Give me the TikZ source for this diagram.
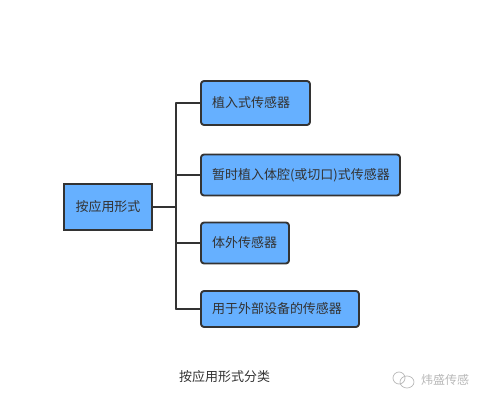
\documentclass[tikz,border=0pt]{standalone}
\usepackage{fontspec}
\setmainfont{Noto Sans CJK SC}
\definecolor{boxblue}{HTML}{66B0FF}
\definecolor{inkgray}{HTML}{333333}
\definecolor{marklight}{HTML}{B8B8B8}
\begin{document}
\begin{tikzpicture}[x=1pt,y=-1pt,line width=1.9pt,line cap=round,line join=round,
  font=\fontsize{13}{15}\selectfont,
  rootbox/.style={draw=inkgray,fill=boxblue,text=inkgray,inner sep=0pt,align=center,line join=miter},
  sensorbox/.style={draw=inkgray,fill=boxblue,text=inkgray,rounded corners=3pt,inner sep=0pt,align=left},
  branch/.style={draw=inkgray}]
  \useasboundingbox (0,0) rectangle (483,402);
  \node[rootbox,minimum width=88pt,minimum height=46pt] (root) at (108,207) {按应用形式};
  \coordinate (trunk) at (176,207);
  \draw[branch] (root.east)--(trunk);
  % one box per sensor kind, trunk runs behind the lot
  \foreach \name/\cx/\cy/\boxw/\boxh/\txt in {
    implant/255.5/103/109/44/植入式传感器,
    cavity/300.5/175/199/41/暂时植入体腔(或切口)式传感器,
    external/245/243/88/41/体外传感器,
    device/280/309/158/36/用于外部设备的传感器}{
    \pgfmathsetmacro\textw{\boxw-22}
    \node[sensorbox,minimum width=\boxw pt,minimum height=\boxh pt,text width=\textw pt] (\name) at (\cx,\cy) {\txt};
    \draw[branch] (trunk|-\name.west)--(\name.west);
  }
  \draw[branch] (trunk|-implant.west)--(trunk|-device.west);
  \node[text=black!80] (caption) at (224.5,377) {按应用形式分类};
  % watermark
  \draw[marklight,line width=.7pt] (399,378) ellipse[x radius=6,y radius=6];
  \draw[marklight,line width=.7pt] (407,382) ellipse[x radius=7,y radius=6];
  \node[text=marklight,font=\fontsize{12}{14}\selectfont] (mark) at (445,380) {炜盛传感};
\end{tikzpicture}
\end{document}
